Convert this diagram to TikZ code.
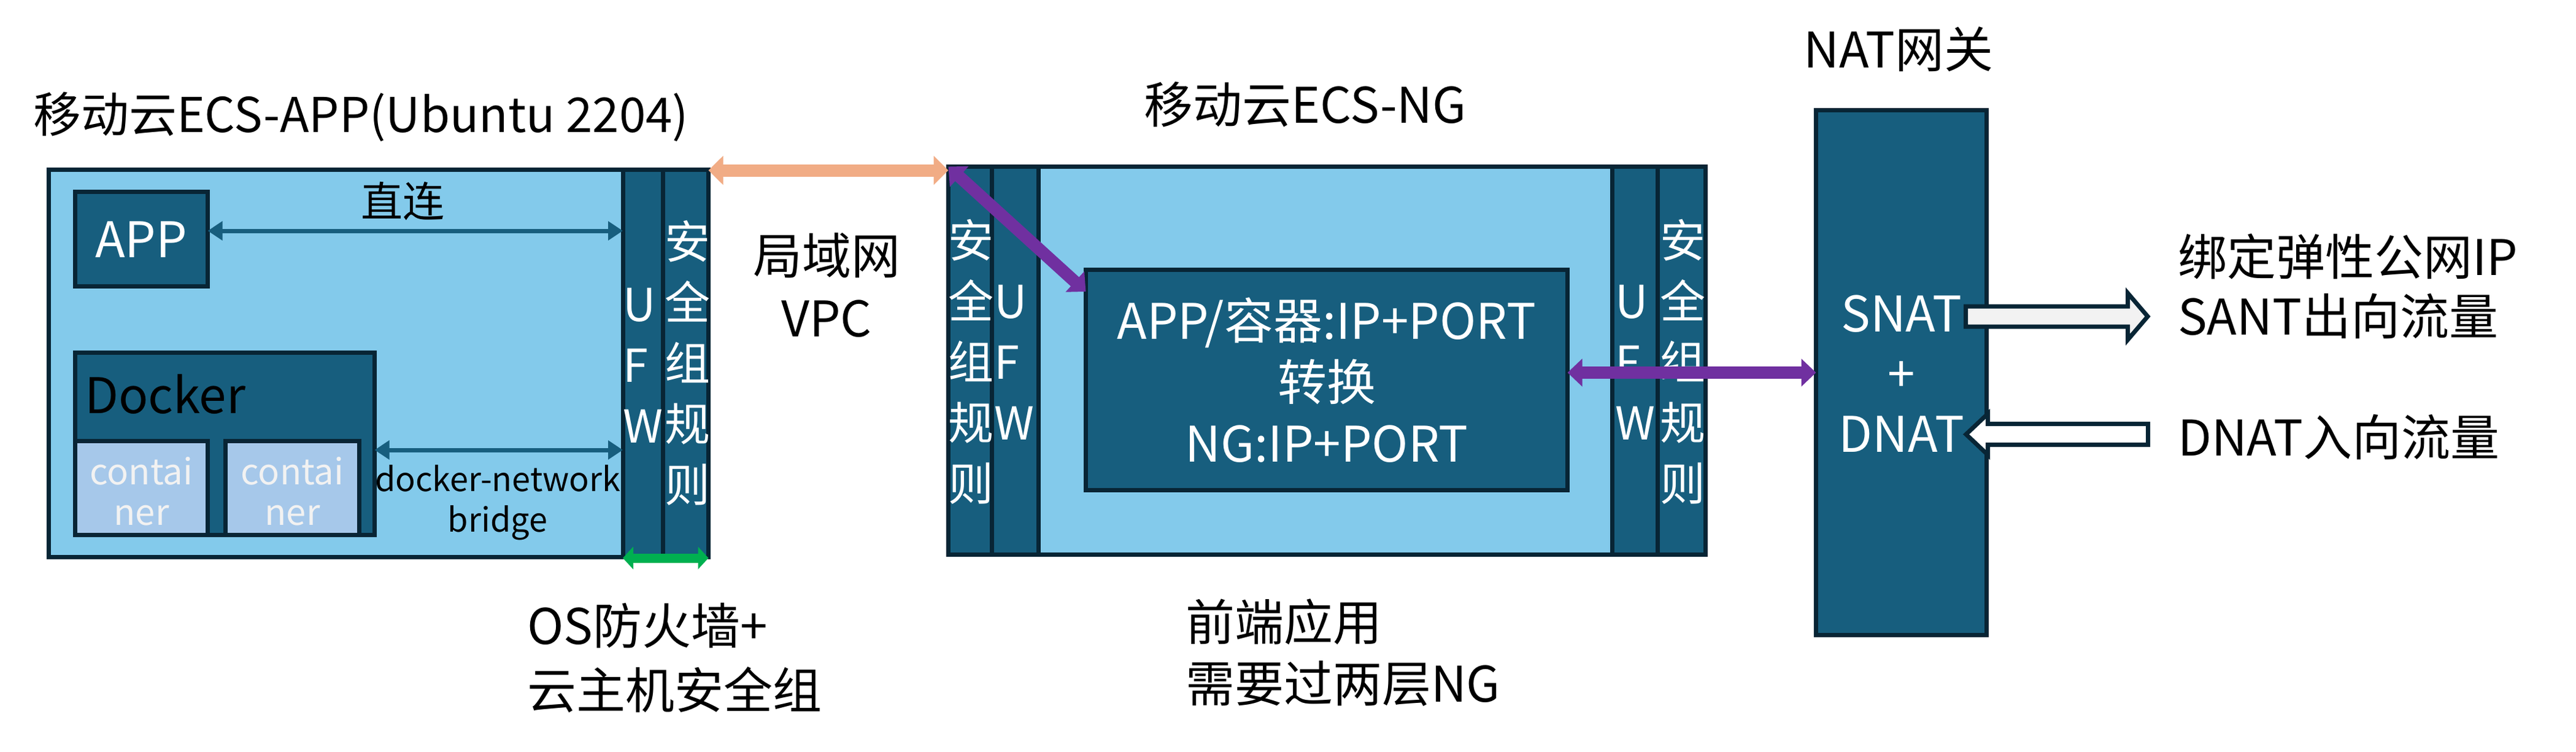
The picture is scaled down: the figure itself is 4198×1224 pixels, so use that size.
\documentclass[tikz,border=0pt]{standalone}
\usepackage{fontspec}
\setmainfont{Noto Sans CJK SC}
\usetikzlibrary{arrows.meta}
\definecolor{dkblue}{RGB}{23,94,126}
\definecolor{ltblue}{RGB}{131,202,235}
\definecolor{ctblue}{RGB}{166,200,234}
\definecolor{edgec}{RGB}{8,37,53}
\definecolor{orng}{RGB}{241,172,133}
\definecolor{purp}{RGB}{112,48,160}
\definecolor{grn}{RGB}{0,176,80}
\definecolor{arrfill}{RGB}{242,242,242}
\newcommand\fbig{\fontsize{80}{100}\selectfont}
\newcommand\fcol{\fontsize{74}{99}\selectfont}
\newcommand\fmid{\fontsize{68}{80}\selectfont}
\newcommand\fsml{\fontsize{54}{66}\selectfont}
\newcommand\fct{\fontsize{58}{66}\selectfont}
\tikzset{
  rect/.style={draw=edgec, line width=7pt, inner sep=0pt, outer sep=0pt, rectangle},
  darkbox/.style={rect, fill=dkblue},
  lightbox/.style={rect, fill=ltblue},
  ctbox/.style={rect, fill=ctblue},
  lbl/.style={inner sep=0pt, outer sep=0pt, text=black, font=\fbig},
  wlbl/.style={inner sep=0pt, outer sep=0pt, text=white, font=\fbig},
  coltxt/.style={wlbl, align=left, anchor=west, font=\fcol},
  darr/.style={draw=dkblue, line width=7pt, {Triangle[length=24pt,width=30pt]}-{Triangle[length=24pt,width=30pt]}},
  oarr/.style={draw=orng, line width=20pt, {Triangle[length=24pt,width=46pt]}-{Triangle[length=24pt,width=46pt]}},
  parr/.style={draw=purp, line width=20pt, {Triangle[length=24pt,width=44pt]}-{Triangle[length=24pt,width=44pt]}},
  garr/.style={draw=grn, line width=15pt, {Triangle[length=17pt,width=36pt]}-{Triangle[length=17pt,width=36pt]}},
  blockarr/.style={draw=edgec, line width=7pt, line join=miter},
}
\begin{document}
\begin{tikzpicture}[x=1pt,y=-1pt]
\useasboundingbox (0,0) rectangle (4198,1224);
\fill[white] (0,0) rectangle (4198,1224);

% ---------- left VM ----------
\node[lightbox, minimum width=1075pt, minimum height=631pt] (appvm) at (617,592) {};
\node[darkbox, minimum width=65pt, minimum height=631pt] (appufw) at (1047.5,592) {};
\node[darkbox, minimum width=74.5pt, minimum height=631pt] (appsg) at (1117.25,592) {};
\node[darkbox, minimum width=216pt, minimum height=154pt] (app) at (230.5,389.5) {};
\node[darkbox, minimum width=488pt, minimum height=297pt] (docker) at (366.5,723) {};
\node[ctbox, minimum width=216pt, minimum height=153pt] (ct1) at (230.5,795) {};
\node[ctbox, minimum width=218pt, minimum height=153pt] (ct2) at (476.5,795) {};

\node[lbl, anchor=west, font=\fontsize{78}{98}\selectfont] (t1) at (54,190) {移动云ECS-APP(Ubuntu 2204)};
\node[wlbl] (applbl) at (230,390) {APP};
\node[lbl, anchor=west] (dockerlbl) at (138,642) {Docker};
\node[wlbl, align=center, text=arrfill, font=\fct] (ct1lbl) at (230.5,800) {contai\\ner};
\node[wlbl, align=center, text=arrfill, font=\fct] (ct2lbl) at (476.5,800) {contai\\ner};
\node[lbl, font=\fmid] (zl) at (656,328) {直连};
\node[lbl, align=center, font=\fsml] (bridgelbl) at (811,819) {docker-network\\bridge};
\node[coltxt] (appufwt) at (1015,595) {U\\F\\W};
\node[coltxt] (appsgt) at (1083,591) {安\\全\\组\\规\\则};

% ---------- middle VM ----------
\node[lightbox, minimum width=1234pt, minimum height=632pt] (ngvm) at (2162.5,587.5) {};
\node[darkbox, minimum width=70.5pt, minimum height=632pt] (ngsgL) at (1580.75,587.5) {};
\node[darkbox, minimum width=76pt, minimum height=632pt] (ngufwL) at (1654,587.5) {};
\node[darkbox, minimum width=74pt, minimum height=632pt] (ngufwR) at (2664,587.5) {};
\node[darkbox, minimum width=78.5pt, minimum height=632pt] (ngsgR) at (2740.25,587.5) {};
\node[darkbox, minimum width=785pt, minimum height=359pt, align=center, text=white, font=\fbig] (inner) at (2162,619) {APP/容器:IP+PORT\\转换\\NG:IP+PORT};

\node[lbl] (t2) at (2127,170) {移动云ECS-NG};
\node[coltxt] (ngsgLt) at (1545,589) {安\\全\\组\\规\\则};
\node[coltxt] (ngufwLt) at (1620,590) {U\\F\\W};
\node[coltxt] (ngufwRt) at (2632,590) {U\\F\\W};
\node[coltxt] (ngsgRt) at (2705,589) {安\\全\\组\\规\\则};

% ---------- NAT ----------
\node[darkbox, minimum width=278pt, minimum height=855pt] (nat) at (3098.5,607) {};
\node[lbl] (t3) at (3094,80) {NAT网关};
\node[wlbl, align=center, font=\fontsize{80}{98}\selectfont] (natt) at (3099,609) {SNAT\\+\\DNAT};

% ---------- free labels ----------
\node[lbl, align=center, font=\fontsize{80}{102}\selectfont] (vpc) at (1347,464) {局域网\\VPC};
\node[lbl, align=left, anchor=west, font=\fontsize{80}{105}\selectfont] (oslbl) at (859,1072) {OS防火墙+\\云主机安全组};
\node[lbl, align=left, anchor=west] (felbl) at (1932,1063) {前端应用\\需要过两层NG};
\node[lbl, anchor=west] (r1) at (3549,418) {绑定弹性公网IP};
\node[lbl, anchor=west] (r2) at (3549,515) {SANT出向流量};
\node[lbl, anchor=west] (r3) at (3549,712) {DNAT入向流量};

% ---------- connectors ----------
\draw[darr] ([yshift=13.5pt]app.east) -- ([yshift=13.5pt]app.east -| appufw.west);
\draw[darr] ([yshift=-10pt]docker.east) -- ([yshift=-10pt]docker.east -| appufw.west);
\draw[garr] ([yshift=-1.5pt]appufw.south west) -- ([yshift=-1.5pt]appsg.south east);
\draw[oarr] ([yshift=-1pt]appsg.north east) -- ([yshift=-1pt]appsg.north east -| ngsgL.west);
\draw[parr] (ngsgL.north west) -- ([yshift=144pt]inner.west);
\draw[parr] ([yshift=12pt]inner.east) -- ([yshift=12pt]inner.east -| nat.west);

% block arrows
\draw[blockarr, fill=arrfill] (3203.5,499) -- (3467.5,499) -- (3467.5,477.5) -- (3500,515.5) -- (3467.5,553.5) -- (3467.5,532) -- (3203.5,532) -- cycle;
\draw[blockarr, fill=white] (3204,707.5) -- (3239.5,674) -- (3239.5,690.5) -- (3500.5,690.5) -- (3500.5,724.5) -- (3239.5,724.5) -- (3239.5,741) -- cycle;
\end{tikzpicture}
\end{document}
